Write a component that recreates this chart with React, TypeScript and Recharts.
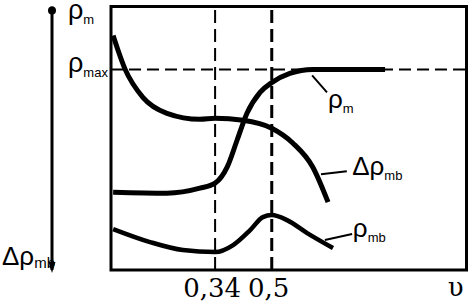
import React from "react";
import {
  LineChart,
  Line,
  XAxis,
  YAxis,
  ReferenceLine,
  ReferenceArea,
  ReferenceDot,
} from "recharts";

// curve readings (u = abscissa, v = arbitrary ordinate units)
const rhoM = [
  { u: 0.052, v: 78 },
  { u: 0.204, v: 77 },
  { u: 0.297, v: 82 },
  { u: 0.34, v: 87 },
  { u: 0.374, v: 103 },
  { u: 0.402, v: 130 },
  { u: 0.43, v: 157 },
  { u: 0.467, v: 178 },
  { u: 0.501, v: 188 },
  { u: 0.551, v: 197 },
  { u: 0.616, v: 201 },
  { u: 0.721, v: 201 },
  { u: 0.82, v: 201 },
];

const deltaRhoMb = [
  { u: 0.052, v: 235 },
  { u: 0.086, v: 201 },
  { u: 0.136, v: 173 },
  { u: 0.204, v: 157 },
  { u: 0.297, v: 151 },
  { u: 0.34, v: 152 },
  { u: 0.419, v: 150 },
  { u: 0.5, v: 142 },
  { u: 0.56, v: 127 },
  { u: 0.616, v: 103 },
  { u: 0.659, v: 68 },
];

const rhoMb = [
  { u: 0.052, v: 41 },
  { u: 0.156, v: 28 },
  { u: 0.249, v: 20 },
  { u: 0.34, v: 18 },
  { u: 0.391, v: 25 },
  { u: 0.439, v: 40 },
  { u: 0.475, v: 53 },
  { u: 0.5, v: 55 },
  { u: 0.543, v: 50 },
  { u: 0.6, v: 37 },
  { u: 0.673, v: 22 },
];

const xDomain = [0.046, 1.05];
const yDomain = [0, 264];
const xTicks = [0.34, 0.5];
const rhoMax = 201;
const leftTicks = [254, rhoMax];
const leftTickLabels = [
  { main: "ρ", sub: "m" },
  { main: "ρ", sub: "max" },
];

// leader lines and curve labels
const leaders = [
  [{ x: 0.614, y: 195 }, { x: 0.656, y: 178 }],
  [{ x: 0.639, y: 96 }, { x: 0.712, y: 99 }],
  [{ x: 0.65, y: 30 }, { x: 0.727, y: 36 }],
];
const curveLabels = [
  { main: "ρ", sub: "m", u: 0.659, v: 162 },
  { main: "Δρ", sub: "mb", u: 0.727, v: 95 },
  { main: "ρ", sub: "mb", u: 0.729, v: 33 },
];

const sans = "'Liberation Sans', Arial, sans-serif";
const serif = "'DejaVu Serif', serif";

function RhoText({ x, y, main, sub, size = 27, subSize = 13, dy = 5 }: any) {
  return (
    <text x={x} y={y} fontFamily={sans} fontSize={size} fill="#000">
      <tspan>{main}</tspan>
      <tspan fontSize={subSize} dy={dy}>
        {sub}
      </tspan>
    </text>
  );
}

function LeftTick({ x, y, index }: any) {
  const t = leftTickLabels[index];
  if (!t) return null;
  return <RhoText x={x - 43} y={y + 3} main={t.main} sub={t.sub} />;
}

function ArrowTick({ x, y, payload }: any) {
  if (payload.value === 0) {
    return (
      <g>
        <polygon points={`${x - 3.5},${y - 8} ${x + 3.5},${y - 8} ${x},${y + 3}`} fill="#000" />
        <RhoText x={x - 50} y={y - 5} main="Δρ" sub="mb" size={26} subSize={15} dy={3} />
      </g>
    );
  }
  return <circle cx={x} cy={y} r={4} fill="#000" />;
}

function XTick({ x, y, payload }: any) {
  return (
    <text x={x - 3} y={y + 27} textAnchor="middle" fontFamily={serif} fontSize={26} fill="#000">
      {String(payload.value).replace(".", ",")}
    </text>
  );
}

export default function App() {
  return (
    <div style={{ position: "absolute", left: 0, top: 0, background: "#fff" }}>
      <LineChart
        width={469}
        height={303}
        margin={{ top: 6.5, right: 2.5, left: 0, bottom: 0 }}
      >
        <XAxis
          type="number"
          dataKey="u"
          domain={xDomain}
          allowDataOverflow
          ticks={xTicks}
          tick={<XTick />}
          tickLine={false}
          tickSize={0}
          tickMargin={0}
          axisLine={false}
          height={33}
          label={{
            value: "υ",
            position: "insideRight",
            offset: 3,
            fontSize: 26,
            fontFamily: serif,
            fill: "#000",
          }}
        />
        <YAxis
          yAxisId="inner"
          type="number"
          domain={yDomain}
          allowDataOverflow
          ticks={leftTicks}
          tick={<LeftTick />}
          tickLine={false}
          tickSize={0}
          tickMargin={0}
          axisLine={false}
          width={59}
        />
        <YAxis
          yAxisId="outer"
          type="number"
          domain={yDomain}
          allowDataOverflow
          ticks={[260, 0]}
          tick={<ArrowTick />}
          tickLine={false}
          tickSize={0}
          tickMargin={0}
          axisLine={{ stroke: "#000", strokeWidth: 3 }}
          width={52}
        />

        <ReferenceArea
          yAxisId="inner"
          x1={xDomain[0]}
          x2={xDomain[1]}
          y1={yDomain[0]}
          y2={yDomain[1]}
          fill="none"
          stroke="#000"
          strokeWidth={3}
          ifOverflow="visible"
        />

        <ReferenceLine yAxisId="inner" x={xTicks[0]} stroke="#000" strokeWidth={2} strokeDasharray="13 6" />
        <ReferenceLine yAxisId="inner" x={xTicks[1]} stroke="#000" strokeWidth={3} strokeDasharray="13 6" />
        <ReferenceLine yAxisId="inner" y={rhoMax} stroke="#000" strokeWidth={2} strokeDasharray="12 6" />

        {leaders.map((seg, i) => (
          <ReferenceLine key={i} yAxisId="inner" segment={seg} stroke="#000" strokeWidth={2} ifOverflow="visible" />
        ))}

        <Line yAxisId="inner" data={rhoM} dataKey="v" type="monotone" stroke="#000" strokeWidth={5} dot={false} isAnimationActive={false} />
        <Line yAxisId="inner" data={deltaRhoMb} dataKey="v" type="monotone" stroke="#000" strokeWidth={5} dot={false} isAnimationActive={false} />
        <Line yAxisId="inner" data={rhoMb} dataKey="v" type="monotone" stroke="#000" strokeWidth={4.5} dot={false} isAnimationActive={false} />

        {curveLabels.map((l, i) => (
          <ReferenceDot
            key={i}
            yAxisId="inner"
            x={l.u}
            y={l.v}
            r={0}
            fill="none"
            stroke="none"
            ifOverflow="visible"
            label={{
              content: ({ viewBox }: any) => (
                <RhoText x={viewBox.x} y={viewBox.y} main={l.main} sub={l.sub} size={26} subSize={13} dy={5} />
              ),
            }}
          />
        ))}
      </LineChart>
    </div>
  );
}
